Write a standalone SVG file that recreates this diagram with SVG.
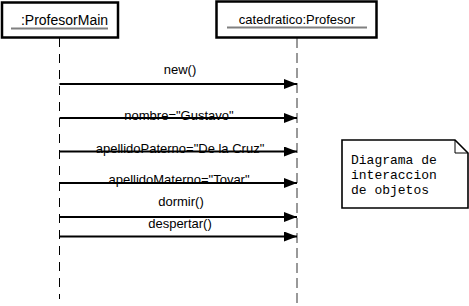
<svg xmlns="http://www.w3.org/2000/svg" width="469" height="306" viewBox="0 0 469 306">
<style>
.box{fill:#fff;stroke:#000;stroke-width:2.5}
.lbl{font-family:"Liberation Sans",Arial,sans-serif;font-size:13px;fill:#000;text-anchor:middle}
.ul{stroke:#808080;stroke-width:2}
.msg{stroke:#000;stroke-width:2;fill:none}
.note{font-family:"Liberation Mono","Courier New",monospace;font-size:13px;fill:#000}
</style>
<defs>
<marker id="ah" viewBox="0 0 13 10" refX="13" refY="5" markerWidth="13" markerHeight="10" markerUnits="userSpaceOnUse" orient="auto">
<path d="M0,0 L13,5 L0,10 Z" fill="#000"/>
</marker>
</defs>
<rect width="469" height="306" fill="#fff"/>
<g id="lifelines">
<line x1="59.5" y1="38" x2="59.5" y2="299" stroke="#000" stroke-width="1" stroke-dasharray="9,7"/>
<line x1="297" y1="38" x2="297" y2="306" stroke="#808080" stroke-width="1.6" stroke-dasharray="10,5"/>
</g>
<g id="profesorMain">
<rect class="box" x="2" y="2.5" width="116" height="35"/>
<text class="lbl" x="64.5" y="25" style="font-size:14px">:ProfesorMain</text>
<line class="ul" x1="11" y1="28.5" x2="108" y2="28.5"/>
</g>
<g id="catedratico">
<rect class="box" x="216.5" y="1.5" width="160" height="36"/>
<text class="lbl" x="297" y="24">catedratico:Profesor</text>
<line class="ul" x1="227" y1="27.5" x2="367" y2="27.5"/>
</g>
<g id="connectors">
<line class="msg" x1="59.5" y1="84" x2="297" y2="84" marker-end="url(#ah)"/>
<line class="msg" x1="59.5" y1="118" x2="297" y2="118" marker-end="url(#ah)"/>
<line class="msg" x1="59.5" y1="151.5" x2="297" y2="151.5" marker-end="url(#ah)"/>
<line class="msg" x1="59.5" y1="183" x2="297" y2="183" marker-end="url(#ah)"/>
<line class="msg" x1="59.5" y1="217" x2="297" y2="217" marker-end="url(#ah)"/>
<line class="msg" x1="59.5" y1="236.5" x2="297" y2="236.5" marker-end="url(#ah)"/>
<text class="lbl" x="180" y="74">new()</text>
<text class="lbl" x="179" y="119.5">nombre="Gustavo"</text>
<text class="lbl" x="180" y="152.5">apellidoPaterno="De la Cruz"</text>
<text class="lbl" x="179" y="183.5">apellidoMaterno="Tovar"</text>
<text class="lbl" x="181" y="206">dormir()</text>
<text class="lbl" x="180" y="228">despertar()</text>
</g>
<g id="note">
<path d="M342,140 L455,140 L468,153 L468,208 L342,208 Z" fill="#fff" stroke="#000" stroke-width="1.6"/>
<path d="M455,140 L455,153 L468,153" fill="none" stroke="#000" stroke-width="1"/>
<text class="note" x="351" y="164">Diagrama de</text>
<text class="note" x="351" y="179">interaccion</text>
<text class="note" x="351" y="194">de objetos</text>
</g>
</svg>
